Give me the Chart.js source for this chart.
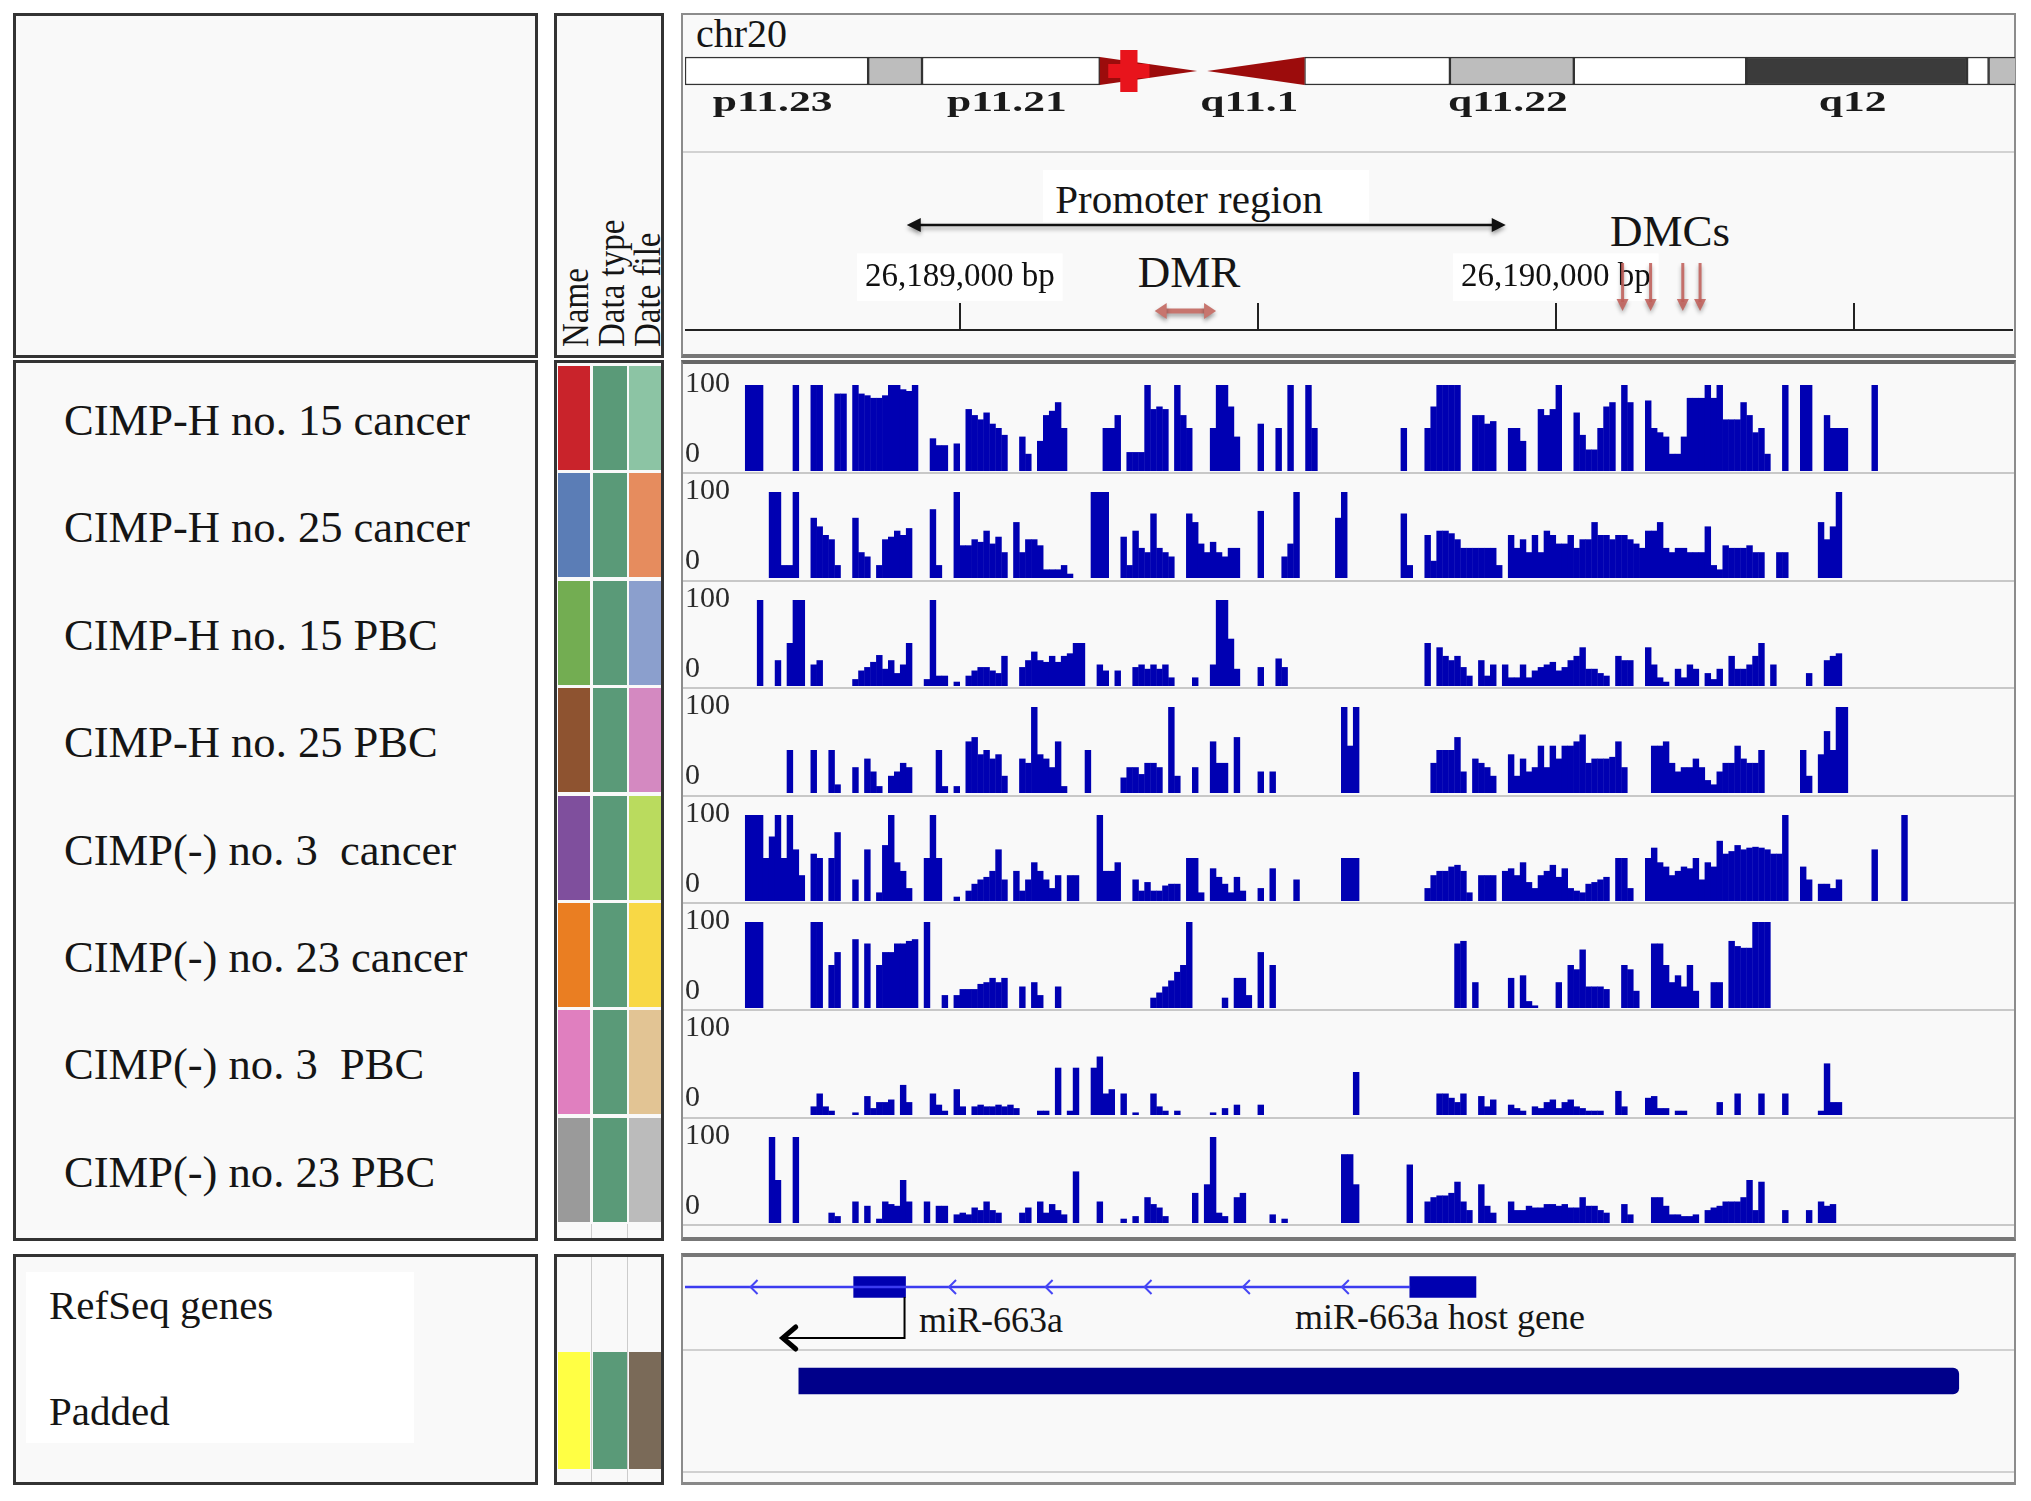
<!DOCTYPE html>
<html>
<head>
<meta charset="utf-8">
<title>chr20 miR-663a methylation</title>
<script src="https://cdn.jsdelivr.net/npm/chart.js@4.4.1/dist/chart.umd.min.js"></script>
<style>
  html, body { margin: 0; padding: 0; }
  body { width: 2031px; height: 1501px; position: relative; overflow: hidden; background: #fff;
         font-family: "Liberation Serif", "DejaVu Serif", serif; color: #151515; }
  .box { position: absolute; box-sizing: border-box; border: 3px solid #333; background: #f9f9f9; }
  .panel { position: absolute; box-sizing: border-box; border: 2px solid #8c8c8c; background: #f9f9f9; }
  .rule, .cell { position: absolute; }
  .txt { position: absolute; white-space: pre; line-height: 1; }
  canvas { position: absolute; }
</style>
</head>
<body>
<script>
// ---- genomic window (bp) ----
const XMIN = 26188539, XMAX = 26190767;
const BIN_START = 26188630, BIN_SIZE = 10;   // methylation values are in 10 bp bins

const trackNames = ['CIMP-H no. 15 cancer', 'CIMP-H no. 25 cancer', 'CIMP-H no. 15 PBC', 'CIMP-H no. 25 PBC',
                    'CIMP(-) no. 3  cancer', 'CIMP(-) no. 23 cancer', 'CIMP(-) no. 3  PBC', 'CIMP(-) no. 23 PBC'];
const trackRange = [0, 100];

const t1 = [0,100,100,100,0,0,0,0,0,100, 0,0,100,100,0,0,90,90,0,100, 90,88,85,85,88,100,100,95,93,100,
  0,0,38,30,30,0,32,0,72,65, 60,68,55,50,42,0,0,40,20,0, 35,65,70,80,50,0,0,0,0,0,
  0,50,50,65,0,22,22,22,100,72, 75,72,0,100,65,50,0,0,0,50, 100,100,75,40,0,0,0,55,0,0,
  50,0,100,0,0,100,50,0,0,0, 0,0,0,0,0,0,0,0,0,0, 0,50,0,0,0,50,75,100,100,100,
  100,0,0,65,65,55,58,0,0,50, 50,35,0,0,72,65,72,100,0,0, 68,42,25,25,50,75,80,0,100,80,
  0,0,82,50,45,40,20,20,40,85, 85,85,100,85,100,60,60,60,80,65, 45,50,20,0,0,100,0,0,100,100,
  0,0,65,50,50,50,0,0,0,0, 100,0,0,0,0,0,0,0];
const t2 = [0,0,0,0,0,100,100,15,15,100, 0,0,70,60,50,45,15,0,0,70, 30,25,0,15,45,48,55,50,58,0,
  0,0,80,15,0,0,100,38,38,45, 42,55,40,48,30,0,65,30,45,45, 38,10,10,10,15,5,0,0,0,100,
  100,100,0,0,48,15,55,35,30,75, 35,30,25,0,0,75,65,40,30,42, 30,25,35,35,0,0,0,78,0,0,
  0,25,40,100,0,0,0,0,0,0, 70,100,0,0,0,0,0,0,0,0, 0,75,15,0,0,50,20,55,55,52,
  45,35,35,35,35,35,35,15,0,50, 35,45,30,50,30,55,50,40,40,50, 35,45,45,65,50,50,45,50,50,45,
  40,35,55,55,65,35,30,35,35,30, 30,30,60,15,10,38,35,35,35,38, 30,30,0,0,30,30,0,0,0,0,
  0,65,45,60,100,0,0,0,0,0, 0,0,0,0,0,0,0,0];
const t3 = [0,0,0,100,0,0,30,0,50,100, 100,0,25,30,0,0,0,0,0,8, 18,22,28,36,20,30,15,25,50,0,
  0,8,100,12,12,0,5,0,12,18, 22,22,18,15,35,0,0,22,30,40, 30,28,35,28,35,38,50,50,0,0,
  25,18,0,18,0,0,22,25,20,25, 20,25,10,0,0,0,10,0,0,25, 100,100,55,20,0,0,0,22,0,0,
  32,22,0,0,0,0,0,0,0,0, 0,0,0,0,0,0,0,0,0,0, 0,0,0,0,0,50,0,45,35,30,
  35,22,12,0,30,12,25,0,25,10, 10,25,10,18,22,25,28,18,22,30, 35,45,20,20,15,12,0,35,30,30,
  0,0,45,25,10,5,0,20,10,25, 20,0,15,8,20,0,35,20,20,25, 35,50,0,25,0,0,0,0,0,15,
  0,0,30,35,38,0,0,0,0,0, 0,0,0,0,0,0,0,0];
const t4 = [0,0,0,0,0,0,0,0,50,0, 0,0,50,0,0,50,10,0,0,30, 0,40,25,8,0,20,25,35,30,0,
  0,0,0,50,8,0,8,0,60,65, 45,50,40,45,20,0,0,40,35,100, 45,40,30,60,8,0,0,0,50,0,
  0,0,0,0,18,30,30,22,35,35, 30,0,100,20,0,0,30,0,0,60, 35,35,0,65,0,0,0,25,0,25,
  0,0,0,0,0,0,0,0,0,0, 0,100,55,100,0,0,0,0,0,0, 0,0,0,0,0,0,35,50,50,50,
  65,25,0,40,35,30,20,0,0,45, 20,40,25,30,55,30,55,40,55,55, 60,68,35,40,40,40,42,60,30,0,
  0,0,0,55,55,60,35,25,30,30, 40,30,15,10,25,35,35,55,40,35, 35,50,0,0,0,0,0,0,50,20,
  0,45,72,50,100,100,0,0,0,0, 0,0,0,0,0,0,0,0];
const t5 = [0,100,100,100,50,75,100,50,100,60, 30,0,55,50,0,50,80,0,0,25, 0,60,0,10,65,100,45,35,15,0,
  0,50,100,50,0,0,5,0,12,20, 25,28,35,60,25,0,35,12,25,45, 35,25,15,30,0,30,30,0,0,0,
  100,35,35,45,0,0,25,12,22,12, 12,18,20,20,0,50,50,10,0,38, 28,20,10,28,12,0,0,15,0,38,
  0,0,0,25,0,0,0,0,0,0, 0,50,50,50,0,0,0,0,0,0, 0,0,0,0,0,15,30,35,35,40,
  42,35,10,0,30,30,30,0,35,38, 30,45,22,15,30,35,42,28,38,15, 12,10,20,22,25,28,0,50,50,15,
  0,0,50,62,45,40,30,35,40,38, 50,25,45,40,70,55,58,65,60,62, 63,62,60,55,55,100,0,0,40,25,
  0,20,20,15,25,0,0,0,0,0, 60,0,0,0,0,100,0,0];
const t6 = [0,100,100,100,0,0,0,0,0,0, 0,0,100,100,0,50,65,0,0,80, 0,75,0,50,65,65,75,75,78,80,
  0,100,0,0,15,0,15,22,22,22, 28,30,35,30,35,0,0,25,0,30, 15,0,0,25,0,0,0,0,0,0,
  0,0,0,0,0,0,0,0,0,12, 18,25,32,42,50,100,0,0,0,0, 0,12,0,35,35,15,0,65,0,50,
  0,0,0,0,0,0,0,0,0,0, 0,0,0,0,0,0,0,0,0,0, 0,0,0,0,0,0,0,0,0,0,
  75,78,0,30,0,0,0,0,0,35, 0,38,8,3,0,0,0,30,0,50, 45,68,25,25,25,22,0,0,50,45,
  20,0,0,75,75,50,30,38,25,50, 20,0,0,30,30,0,78,72,70,70, 100,100,100,0,0,0,0,0,0,0,
  0,0,0,0,0,0,0,0,0,0, 0,0,0,0,0,0,0,0];
const t7 = [0,0,0,0,0,0,0,0,0,0, 0,0,10,25,10,5,0,0,0,3, 0,22,8,15,15,18,0,35,15,0,
  0,0,25,12,5,0,30,10,0,10, 12,10,10,12,10,12,8,0,0,0, 5,5,0,55,0,5,55,0,0,55,
  68,25,30,0,25,0,3,0,0,25, 10,5,0,5,0,0,0,0,0,3, 0,8,0,12,0,0,0,12,0,0,
  0,0,0,0,0,0,0,0,0,0, 0,0,0,50,0,0,0,0,0,0, 0,0,0,0,0,0,0,25,25,20,
  15,25,0,0,22,10,18,0,0,12, 8,5,0,10,8,15,18,8,15,18, 10,8,5,5,5,0,0,28,10,0,
  0,0,20,22,8,8,0,5,5,0, 0,0,0,0,15,0,0,25,0,0, 0,25,0,0,0,25,0,0,0,0,
  0,5,60,15,15,0,0,0,0,0, 0,0,0,0,0,0,0,0];
const t8 = [0,0,0,0,0,100,50,0,0,100, 0,0,0,0,0,12,8,0,0,25, 0,20,0,5,25,22,20,50,25,0,
  0,25,0,20,20,0,10,12,10,18, 15,25,15,12,0,0,0,12,18,0, 25,12,22,15,10,0,60,0,0,0,
  25,0,0,0,5,0,8,0,30,22, 18,8,0,0,0,0,35,0,45,100, 12,8,0,30,35,0,0,0,0,10,
  0,5,0,0,0,0,0,0,0,0, 0,80,80,45,0,0,0,0,0,0, 0,0,68,0,0,25,30,32,32,35,
  48,25,15,0,45,20,12,0,0,25, 15,15,20,18,18,22,22,20,22,18, 18,30,20,20,15,12,0,0,22,10,
  0,0,0,30,30,20,10,10,8,8, 10,0,15,18,20,25,25,25,30,50, 15,48,0,0,0,15,0,0,0,15,
  0,25,20,22,0,0,0,0,0,0, 0,0,0,0,0,0,0,0];
const trackValues = [t1, t2, t3, t4, t5, t6, t7, t8];

// attribute colours (Name / Data type / Date file)
const nameColors = ['#c9232b', '#5b7db6', '#73ad52', '#8e5330', '#7f4f9d', '#ea7e22', '#e07fbf', '#9a9a9a'];
const typeColors = ['#5a9a78', '#5a9a78', '#5a9a78', '#5a9a78', '#5a9a78', '#5a9a78', '#5a9a78', '#5a9a78'];
const fileColors = ['#8cc4a4', '#e68c5e', '#8b9fcd', '#d489c1', '#badb5e', '#f8d845', '#e2c494', '#bbbbbb'];
const paddedAttr = ['#ffff44', '#5a9a78', '#7a6a58'];

// ruler (bp)
const rulerTicks = [26189000, 26189500, 26190000, 26190500];
const rulerLabels = [26189000, 26190000];
const promoterRange = [26188911, 26189916];
const dmrRange = [26189327, 26189430];
const dmcPositions = [26190112, 26190159, 26190213, 26190242];

// RefSeq gene + padded region (bp)
const geneIntron = [XMIN, 26189755];
const geneExons = [[26188822, 26188909], [26189755, 26189866]];
const intronArrows = [26188654, 26188987, 26189149, 26189315, 26189480, 26189646];
const tssArrow = [26188909, 26188703];
const paddedRegion = [26188730, 26190676];

// chr20 cytobands (Mb)
const bandNames  = ['p11.23', 'p11.22', 'p11.21', 'p11.1', 'q11.1', 'q11.21', 'q11.22', 'q11.23', 'q12', 'q13.11', 'q13.12'];
const bandStarts = [17.9, 21.3, 22.3, 25.6, 27.5, 29.4, 32.1, 34.4, 37.6, 41.7, 42.1];
const bandEnds   = [21.3, 22.3, 25.6, 27.5, 29.4, 32.1, 34.4, 37.6, 41.7, 42.1, 46.4];
const bandStains = ['gneg', 'gpos25', 'gneg', 'acen', 'acen', 'gneg', 'gpos25', 'gneg', 'gpos75', 'gneg', 'gpos25'];
const bandLabels = ['p11.23', 'p11.21', 'q11.1', 'q11.22', 'q12'];
const viewMarker = [25.98, 26.30];
const IDEO_MIN = 17.9, IDEO_MAX = 42.59;

const BAR_COLOR = '#0000b2';
const SERIF = '"Liberation Serif", "DejaVu Serif", serif';

Chart.defaults.font.family = SERIF;
Chart.defaults.animation = false;
Chart.defaults.responsive = false;
Chart.defaults.events = [];
Chart.defaults.plugins.legend.display = false;
Chart.defaults.plugins.tooltip.enabled = false;

function el(tag, cls, l, t, w, h, css) {
  const d = document.createElement(tag);
  if (cls) d.className = cls;
  d.style.left = l + 'px';
  d.style.top = t + 'px';
  if (w != null) d.style.width = w + 'px';
  if (h != null) d.style.height = h + 'px';
  if (css) Object.assign(d.style, css);
  document.body.appendChild(d);
  return d;
}
function canvasAt(l, t, w, h) {
  const c = el('canvas', '', l, t, w, h);
  c.width = w;
  c.height = h;
  return c;
}
function text(str, x, cy, size, sx, align, css) {
  const d = el('div', 'txt', x, cy - size * 0.5, null, null, css);
  d.textContent = str;
  d.style.fontSize = size + 'px';
  if (align === 'center') {
    d.style.transformOrigin = '50% 50%';
    d.style.transform = 'translateX(-50%) scaleX(' + sx + ')';
  } else {
    d.style.transformOrigin = '0 50%';
    d.style.transform = 'scaleX(' + sx + ')';
  }
  return d;
}
function rotated(str, x, bottom, size) {
  const d = el('div', 'txt', x, bottom, null, null);
  d.textContent = str;
  d.style.fontSize = size + 'px';
  d.style.transformOrigin = '0 0';
  d.style.transform = 'rotate(-90deg) scaleY(1.17)';
}
const trackTop = i => Math.round(365 + 107.4 * i);

// ---- frames ----
el('div', 'box', 13, 13, 525, 345);
el('div', 'box', 13, 360, 525, 881);
el('div', 'box', 13, 1254, 525, 231);
el('div', 'box', 554, 13, 110, 345);
el('div', 'box', 554, 360, 110, 881);
el('div', 'box', 554, 1254, 110, 231);
el('div', 'panel', 681, 13, 1335, 345, { borderBottom: '4px solid #777' });
el('div', 'panel', 681, 360, 1335, 881, { borderTop: '4px solid #666', borderBottom: '4px solid #777' });
el('div', 'panel', 681, 1253, 1335, 232, { borderTop: '4px solid #777', borderBottom: '3px solid #888' });
el('div', 'rule', 683, 151, 1331, 2, { background: '#d2d2d2' });
for (let i = 0; i < trackNames.length; i++) {
  el('div', 'rule', 683, trackTop(i + 1), 1331, 2, { background: '#c8c8c8' });
}
el('div', 'rule', 683, 1349, 1331, 2, { background: '#d0d0d0' });
el('div', 'rule', 683, 1471, 1331, 2, { background: '#d0d0d0' });
el('div', 'rule', 26, 1272, 388, 171, { background: '#fff' });

// ---- left labels ----
trackNames.forEach((n, i) => text(n, 64, trackTop(i) + 55, 45, 0.99));
text('RefSeq genes', 49, 1305, 41, 1);
text('Padded', 49, 1411, 41, 1);

// ---- attribute panel ----
rotated('Name', 556, 347, 33);
rotated('Data type', 592, 347, 33);
rotated('Date file', 628, 347, 33);
const attrX = [558, 593, 629], attrW = [32, 34, 32];
trackNames.forEach((n, i) => {
  [nameColors[i], typeColors[i], fileColors[i]].forEach((c, k) => {
    el('div', 'cell', attrX[k], trackTop(i) + 1, attrW[k], 104, { background: c });
  });
});
paddedAttr.forEach((c, k) => el('div', 'cell', attrX[k], 1352, attrW[k], 117, { background: c }));
[591, 627].forEach(x => {
  el('div', 'rule', x, 1224, 1, 14, { background: '#ccc' });
  el('div', 'rule', x, 1257, 1, 225, { background: '#ccc' });
});

// ---- header texts ----
text('chr20', 696, 34, 40, 1);
el('div', 'rule', 1043, 170, 326, 52, { background: '#fff' });
text('Promoter region', 1189, 199, 41, 1, 'center');
text('DMR', 1189, 272, 45, 1, 'center');
text('DMCs', 1670, 231, 45, 1, 'center');
text('miR-663a', 919, 1320, 36, 1);
text('miR-663a host gene', 1440, 1317, 36, 1, 'center');

// ---- ideogram ----
const ideoBands = bandNames.map((n, i) => i).filter(i => bandStains[i] !== 'acen');
const stainColor = { gneg: '#ffffff', gpos25: '#bdbdbd', gpos75: '#3b3b3b' };
const ideoPlugin = {
  id: 'ideo',
  afterDatasetsDraw(chart) {
    const { ctx } = chart;
    const x = chart.scales.x;
    const cy = chart.scales.y.getPixelForValue(0);
    const h = 14;
    ctx.save();
    ctx.fillStyle = '#9c0c0c';
    bandNames.forEach((n, i) => {
      if (bandStains[i] !== 'acen') return;
      const a = x.getPixelForValue(bandStarts[i]), b = x.getPixelForValue(bandEnds[i]);
      ctx.beginPath();
      if (n.startsWith('p')) {
        ctx.moveTo(a, cy - h); ctx.lineTo(b - 5, cy); ctx.lineTo(a, cy + h);
      } else {
        ctx.moveTo(b, cy - h); ctx.lineTo(a + 5, cy); ctx.lineTo(b, cy + h);
      }
      ctx.closePath();
      ctx.fill();
    });
    ctx.fillStyle = '#e8141c';
    const m0 = x.getPixelForValue(viewMarker[0]), m1 = x.getPixelForValue(viewMarker[1]);
    ctx.fillRect(m0, cy - 21, m1 - m0, 42);
    ctx.fillRect(m0 - 12, cy - 7, m1 - m0 + 24, 14);
    ctx.fillStyle = '#1a1a1a';
    ctx.font = 'bold 30px ' + SERIF;
    ctx.textAlign = 'center';
    ctx.textBaseline = 'middle';
    bandNames.forEach((n, i) => {
      if (!bandLabels.includes(n)) return;
      const c = x.getPixelForValue((bandStarts[i] + bandEnds[i]) / 2) - 4;
      ctx.save();
      ctx.translate(c, cy + 32);
      ctx.scale(1.45, 1);
      ctx.fillText(n, 0, 0);
      ctx.restore();
    });
    ctx.restore();
  }
};
new Chart(canvasAt(685, 21, 1330, 100), {
  type: 'bar',
  data: {
    labels: ['chr20'],
    datasets: [{
      data: ideoBands.map(i => ({ x: [bandStarts[i], bandEnds[i]], y: 'chr20' })),
      backgroundColor: ideoBands.map(i => stainColor[bandStains[i]]),
      borderColor: '#333',
      borderWidth: 1.5,
      borderSkipped: false,
      barThickness: 28,
      grouped: false
    }]
  },
  options: {
    indexAxis: 'y',
    layout: { padding: 0 },
    scales: {
      x: { type: 'linear', min: IDEO_MIN, max: IDEO_MAX, offset: false, display: false },
      y: { type: 'category', display: false }
    }
  },
  plugins: [ideoPlugin]
});

// ---- ruler ----
function arrowHead(ctx, x, y, dx, dy, len, wid) {
  const nx = -dy, ny = dx;
  ctx.beginPath();
  ctx.moveTo(x, y);
  ctx.lineTo(x - dx * len + nx * wid, y - dy * len + ny * wid);
  ctx.lineTo(x - dx * len - nx * wid, y - dy * len - ny * wid);
  ctx.closePath();
  ctx.fill();
}
const rulerPlugin = {
  id: 'rulerMarks',
  afterDraw(chart) {
    const { ctx } = chart;
    const x = chart.scales.x;
    ctx.save();
    // promoter region
    ctx.shadowColor = 'rgba(0,0,0,0.35)'; ctx.shadowBlur = 4; ctx.shadowOffsetY = 3;
    ctx.strokeStyle = '#111'; ctx.fillStyle = '#111'; ctx.lineWidth = 2.5;
    const p0 = x.getPixelForValue(promoterRange[0]), p1 = x.getPixelForValue(promoterRange[1]);
    ctx.beginPath(); ctx.moveTo(p0 + 8, 73); ctx.lineTo(p1 - 8, 73); ctx.stroke();
    arrowHead(ctx, p0, 73, -1, 0, 14, 7);
    arrowHead(ctx, p1, 73, 1, 0, 14, 7);
    // DMR
    ctx.strokeStyle = '#c7756e'; ctx.fillStyle = '#c7756e'; ctx.lineWidth = 5;
    const d0 = x.getPixelForValue(dmrRange[0]), d1 = x.getPixelForValue(dmrRange[1]);
    ctx.beginPath(); ctx.moveTo(d0 + 8, 159); ctx.lineTo(d1 - 8, 159); ctx.stroke();
    arrowHead(ctx, d0, 159, -1, 0, 12, 8);
    arrowHead(ctx, d1, 159, 1, 0, 12, 8);
    // DMCs
    ctx.strokeStyle = 'rgba(192,96,90,0.88)'; ctx.fillStyle = 'rgba(192,96,90,0.88)'; ctx.lineWidth = 3;
    dmcPositions.forEach(p => {
      const px = x.getPixelForValue(p);
      ctx.beginPath(); ctx.moveTo(px, 111); ctx.lineTo(px, 150); ctx.stroke();
      arrowHead(ctx, px, 159, 0, 1, 12, 6);
    });
    ctx.restore();
  }
};
new Chart(canvasAt(685, 152, 1328, 201), {
  type: 'scatter',
  data: { datasets: [] },
  options: {
    layout: { padding: 0 },
    scales: {
      x: {
        type: 'linear', position: 'top', min: XMIN, max: XMAX, offset: false,
        afterBuildTicks(s) { s.ticks = rulerTicks.map(v => ({ value: v })); },
        afterFit(s) { s.height = 178; },
        grid: { drawOnChartArea: false, drawTicks: true, tickLength: 27, color: '#222', lineWidth: 2 },
        border: { display: true, color: '#222', width: 2 },
        ticks: {
          autoSkip: false, maxRotation: 0, minRotation: 0, padding: 6,
          color: '#111', font: { size: 33, family: SERIF },
          showLabelBackdrop: true,
          backdropColor: c => rulerLabels.includes(c.tick && c.tick.value) ? '#ffffff' : 'rgba(0,0,0,0)',
          backdropPadding: { x: 8, y: 4 },
          callback: v => rulerLabels.includes(v) ? v.toLocaleString('en-US') + ' bp' : ''
        }
      },
      y: { display: false, min: 0, max: 1 }
    }
  },
  plugins: [rulerPlugin]
});

// ---- methylation tracks ----
const rangePlugin = {
  id: 'rangeLabels',
  afterDraw(chart) {
    const { ctx } = chart;
    const y = chart.scales.y;
    ctx.save();
    ctx.fillStyle = '#2a2a2a';
    ctx.font = '30px ' + SERIF;
    ctx.textBaseline = 'middle';
    ctx.fillText(String(trackRange[1]), 0, y.getPixelForValue(trackRange[1]) - 1);
    ctx.fillText(String(trackRange[0]), 0, y.getPixelForValue(trackRange[0]) - 17);
    ctx.restore();
  }
};
const TRACK_H = 106;
const Y_TOP = trackRange[1] * TRACK_H / 86;
trackValues.forEach((vals, i) => {
  new Chart(canvasAt(685, trackTop(i), 1328, TRACK_H), {
    type: 'bar',
    data: {
      datasets: [{
        data: vals.map((v, k) => ({ x: BIN_START + BIN_SIZE * k + BIN_SIZE / 2, y: v > 0 ? v : null })),
        backgroundColor: BAR_COLOR,
        borderWidth: 0,
        barPercentage: 1.08,
        categoryPercentage: 1
      }]
    },
    options: {
      layout: { padding: 0 },
      scales: {
        x: { type: 'linear', min: XMIN, max: XMAX, offset: false, display: false },
        y: { min: 0, max: Y_TOP, display: false }
      }
    },
    plugins: [rangePlugin]
  });
});

// ---- RefSeq gene and padded region ----
const genePlugin = {
  id: 'geneMarks',
  afterDatasetsDraw(chart) {
    const { ctx } = chart;
    const x = chart.scales.x;
    const cy = chart.scales.y.getPixelForValue(0);
    ctx.save();
    ctx.strokeStyle = '#4646f5'; ctx.lineWidth = 2;
    intronArrows.forEach(p => {
      const px = x.getPixelForValue(p);
      ctx.beginPath(); ctx.moveTo(px + 4, cy - 7); ctx.lineTo(px - 3, cy); ctx.lineTo(px + 4, cy + 7); ctx.stroke();
    });
    const sx = x.getPixelForValue(tssArrow[0]) - 1, ex = x.getPixelForValue(tssArrow[1]);
    const top = cy + 10, bot = 98;
    ctx.strokeStyle = '#000'; ctx.lineWidth = 2;
    ctx.beginPath(); ctx.moveTo(sx, top); ctx.lineTo(sx, bot); ctx.lineTo(ex + 3, bot); ctx.stroke();
    ctx.lineWidth = 5; ctx.lineCap = 'round'; ctx.lineJoin = 'miter';
    ctx.beginPath(); ctx.moveTo(ex + 13, bot - 11); ctx.lineTo(ex, bot); ctx.lineTo(ex + 13, bot + 11); ctx.stroke();
    ctx.restore();
  }
};
new Chart(canvasAt(685, 1240, 1328, 188), {
  type: 'bar',
  data: {
    labels: ['RefSeq genes', 'Padded'],
    datasets: [
      { data: [{ x: geneIntron, y: 'RefSeq genes' }], backgroundColor: '#3c3cf0', barThickness: 2, grouped: false, borderWidth: 0 },
      { data: geneExons.map(e => ({ x: e, y: 'RefSeq genes' })), backgroundColor: '#0000b0', barThickness: 21, grouped: false, borderWidth: 0 },
      { data: [{ x: paddedRegion, y: 'Padded' }], backgroundColor: '#00008a', barThickness: 26, grouped: false, borderWidth: 0,
        borderRadius: { topRight: 6, bottomRight: 6 }, borderSkipped: false }
    ]
  },
  options: {
    indexAxis: 'y',
    layout: { padding: 0 },
    scales: {
      x: { type: 'linear', min: XMIN, max: XMAX, offset: false, display: false },
      y: { type: 'category', display: false }
    }
  },
  plugins: [genePlugin]
});
</script>
</body>
</html>
